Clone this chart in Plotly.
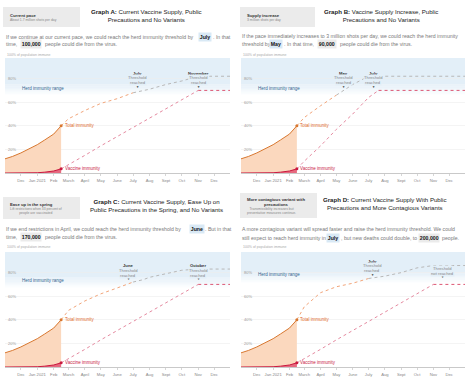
import plotly.graph_objects as go

W, H = 474, 381
FONT = "Liberation Sans, Arial, sans-serif"

# ---------------- data ----------------
month_ticks = ["2020-12-01", "2021-01-01", "2021-02-01", "2021-03-01", "2021-04-01", "2021-05-01",
               "2021-06-01", "2021-07-01", "2021-08-01", "2021-09-01", "2021-10-01", "2021-11-01",
               "2021-12-01"]
month_labels = ["Dec", "Jan 2021", "Feb", "March", "April", "May", "June", "July", "Aug", "Sept",
                "Oct", "Nov", "Dec"]
pct_ticks = [20, 40, 60, 80]
pct_labels = ["20%", "40%", "60%", "80%"]

hist_dates = ["2020-11-01", "2020-11-15", "2020-12-01", "2020-12-15", "2021-01-01", "2021-01-15",
              "2021-02-01", "2021-02-15"]
total_hist = [12, 14, 17, 20, 24, 28, 33, 40]
vaccine_hist = [0, 0, 0, 0, 0.2, 0.7, 1.7, 3.5]

proj_dates = ["2021-02-15", "2021-03-01", "2021-04-01", "2021-05-01", "2021-06-01", "2021-07-01",
              "2021-07-20", "2021-08-01", "2021-09-01", "2021-10-01", "2021-11-01", "2021-12-01",
              "2021-12-31"]
total_proj_a = [40, 46, 53, 59, 63, 68, 70, 71, 75, 78, 82, 82, 82]
vaccine_proj_a = [3.5, 7, 15, 23, 31, 38.5, 43.5, 46.5, 54.5, 62, 70, 70, 70]
total_proj_b = [40, 47, 57, 66, 75, 82, 82, 82, 82, 82, 82, 82, 82]
vaccine_proj_b = [3.5, 10, 23, 37, 50, 64, 70, 70, 70, 70, 70, 70, 70]
total_proj_c = [40, 48, 56, 62, 67, 72, 74, 76, 79, 82, 83, 83, 83]
vaccine_proj_c = [3.5, 7, 15, 23, 31, 38.5, 43.5, 46.5, 54.5, 62, 70, 70, 70]
total_proj_d = [40, 51, 63, 68, 71, 75, 76, 77, 80, 84, 86, 86, 86]
vaccine_proj_d = [3.5, 7, 15, 23, 31, 38.5, 43.5, 46.5, 54.5, 62, 70, 70, 70]

# date from which the total line turns grey, and the vaccine line plateaus
total_split = {"A": "2021-07-01", "B": "2021-05-01", "C": "2021-07-01", "D": "2021-07-01"}
vaccine_plateau = {"A": "2021-11-01", "B": "2021-07-20", "C": "2021-11-01", "D": "2021-11-01"}

# herd immunity band (percent of population)
band_low = {"A": 66, "B": 66, "C": 67, "D": 71}
band_high = 97.5

# threshold callouts: (date, pointer %, lines)
thresholds = {
    "A": [("2021-07-10", 72, ["<b>July</b>", "Threshold", "reached"]),
          ("2021-11-02", 72, ["<b>November</b>", "Threshold", "reached"])],
    "B": [("2021-05-15", 72, ["<b>May</b>", "Threshold", "reached"]),
          ("2021-07-10", 72, ["<b>July</b>", "Threshold", "reached"])],
    "C": [("2021-06-22", 73, ["<b>June</b>", "Threshold", "reached"]),
          ("2021-11-01", 73, ["<b>October</b>", "Threshold", "reached"])],
    "D": [("2021-07-08", 77, ["<b>July</b>", "Threshold", "reached"]),
          ("2021-11-18", 74.6, ["Threshold", "not reached"])],
}
herd_label_pct = {"A": 72, "B": 72, "C": 73, "D": 78}

# ---------------- styles ----------------
PEACH = "#fbd8be"
ORANGE = "#d8772f"
ORANGE_TXT = "#e0692a"
ORANGE_PROJ = "#f2a57a"
RED = "#c9193f"
RED_FILL = "#e6697f"
RED_PROJ = "#e58aa0"
RED_PLAT = "#dc5673"
GREY_PROJ = "#b8b8b8"
BAND = "#e3eff8"

panels = [
    dict(key="A", n=1, x0=5, x1=230, y0=55, y1=173, total=total_proj_a, vacc=vaccine_proj_a),
    dict(key="B", n=2, x0=241, x1=465, y0=55, y1=173, total=total_proj_b, vacc=vaccine_proj_b),
    dict(key="C", n=3, x0=5, x1=230, y0=249, y1=367, total=total_proj_c, vacc=vaccine_proj_c),
    dict(key="D", n=4, x0=241, x1=465, y0=249, y1=367, total=total_proj_d, vacc=vaccine_proj_d),
]

fig = go.Figure()
layout_axes = {}
shapes = []
annotations = []


def ann(**kw):
    annotations.append(kw)


for p in panels:
    n = p["n"]
    key = p["key"]
    xa = "x" if n == 1 else f"x{n}"
    ya = "y" if n == 1 else f"y{n}"
    xl = "xaxis" if n == 1 else f"xaxis{n}"
    yl = "yaxis" if n == 1 else f"yaxis{n}"

    layout_axes[xl] = dict(
        domain=[p["x0"] / W, p["x1"] / W], anchor=ya, type="date",
        range=["2020-11-01", "2021-12-31"], tickvals=month_ticks, ticktext=month_labels,
        tickfont=dict(family=FONT, size=4.2, color="#888"), ticks="outside", ticklen=2,
        tickcolor="#bbb", tickwidth=0.6, showline=True, linecolor="#bbb", linewidth=0.8,
        showgrid=False, zeroline=False, fixedrange=True, ticklabelstandoff=1)
    layout_axes[yl] = dict(
        domain=[1 - p["y1"] / H, 1 - p["y0"] / H], anchor=xa, range=[0, 100],
        tickvals=pct_ticks, ticktext=pct_labels, ticklabelposition="inside",
        tickfont=dict(family=FONT, size=4, color="#999"), showgrid=True, gridcolor="#ececec",
        gridwidth=0.6, zeroline=False, showline=False, ticks="", fixedrange=True)

    # herd immunity band with a soft bottom edge
    lo = band_low[key]
    solid = lo + 9
    shapes.append(dict(type="rect", xref=f"{xa} domain", yref=ya, x0=0, x1=1, y0=solid,
                       y1=band_high, fillcolor=BAND, line_width=0, layer="below"))
    steps = 9
    for s in range(steps):
        y_top = solid - s * (solid - lo) / steps
        y_bot = solid - (s + 1) * (solid - lo) / steps
        shapes.append(dict(type="rect", xref=f"{xa} domain", yref=ya, x0=0, x1=1, y0=y_bot,
                           y1=y_top, fillcolor=BAND, opacity=1 - (s + 0.5) / steps,
                           line_width=0, layer="below"))

    # history
    fig.add_trace(go.Scatter(x=hist_dates, y=total_hist, mode="lines", fill="tozeroy",
                             fillcolor=PEACH, line=dict(color=ORANGE, width=1),
                             xaxis=xa, yaxis=ya, hoverinfo="skip"))
    fig.add_trace(go.Scatter(x=hist_dates, y=vaccine_hist, mode="lines", fill="tozeroy",
                             fillcolor=RED_FILL, line=dict(color=RED, width=1),
                             xaxis=xa, yaxis=ya, hoverinfo="skip"))

    # projections
    tot = p["total"]
    vac = p["vacc"]
    i_s = proj_dates.index(total_split[key])
    fig.add_trace(go.Scatter(x=proj_dates[:i_s + 1], y=tot[:i_s + 1], mode="lines",
                             line=dict(color=ORANGE_PROJ, width=1, dash="dot"),
                             xaxis=xa, yaxis=ya, hoverinfo="skip"))
    fig.add_trace(go.Scatter(x=proj_dates[i_s:], y=tot[i_s:], mode="lines",
                             line=dict(color=GREY_PROJ, width=1, dash="dot"),
                             xaxis=xa, yaxis=ya, hoverinfo="skip"))
    i_v = proj_dates.index(vaccine_plateau[key])
    fig.add_trace(go.Scatter(x=proj_dates[:i_v + 1], y=vac[:i_v + 1], mode="lines",
                             line=dict(color=RED_PROJ, width=1, dash="dot"),
                             xaxis=xa, yaxis=ya, hoverinfo="skip"))
    fig.add_trace(go.Scatter(x=proj_dates[i_v:], y=vac[i_v:], mode="lines",
                             line=dict(color=RED_PLAT, width=1, dash="dot"),
                             xaxis=xa, yaxis=ya, hoverinfo="skip"))

    # end-of-history dots
    fig.add_trace(go.Scatter(x=[hist_dates[-1], hist_dates[-1]], y=[total_hist[-1], vaccine_hist[-1]],
                             mode="markers", marker=dict(size=3, color=[ORANGE, RED]),
                             xaxis=xa, yaxis=ya, hoverinfo="skip"))

    ann(xref=xa, yref=ya, x=hist_dates[-1], y=total_hist[-1], text="Total immunity",
        showarrow=False, xanchor="left", yanchor="middle", xshift=1.5,
        font=dict(family=FONT, size=4.5, color=ORANGE_TXT))
    ann(xref=xa, yref=ya, x=hist_dates[-1], y=vaccine_hist[-1] + 0.5, text="Vaccine immunity",
        showarrow=False, xanchor="left", yanchor="middle", xshift=1.5,
        font=dict(family=FONT, size=4.5, color=RED))
    ann(xref=f"{xa} domain", yref=ya, x=0.065, y=herd_label_pct[key], text="Herd immunity range",
        showarrow=False, xanchor="left", yanchor="middle",
        font=dict(family=FONT, size=4.5, color="#33648f"))

    for (d, tip, lines) in thresholds[key]:
        ann(xref=xa, yref=ya, x=d, y=tip + 1.3, text="▼", showarrow=False, xanchor="center",
            yanchor="middle", font=dict(family=FONT, size=3.2, color="#333"))
        nl = len(lines)
        for k, line in enumerate(lines):
            yy = tip + 4.6 + 4.0 * (nl - 1 - k)
            col = "#333" if line.startswith("<b>") else "#888"
            ann(xref=xa, yref=ya, x=d, y=yy, text=line, showarrow=False, xanchor="center",
                yanchor="middle", bgcolor=BAND, borderpad=0,
                font=dict(family=FONT, size=4.2, color=col))


# ---------------- headers ----------------
def ptext(x, y, s, size, color, xanchor="left", bg=None, pad=0):
    d = dict(xref="paper", yref="paper", x=x / W, y=1 - y / H, text=s, showarrow=False,
             xanchor=xanchor, yanchor="middle", font=dict(family=FONT, size=size, color=color),
             borderpad=pad)
    if bg:
        d["bgcolor"] = bg
    ann(**d)


def box(x0, y0, x1, y1):
    shapes.append(dict(type="rect", xref="paper", yref="paper", x0=x0 / W, x1=x1 / W,
                       y0=1 - y1 / H, y1=1 - y0 / H, fillcolor="#ebebeb", line_width=0,
                       layer="below"))


MONTH_BG = "#d9e9f5"
NUM_BG = "#ebebeb"
PARA = "#7a7a7a"
PSZ = 5.2

# Graph A
box(3, 7, 80, 27)
ptext(9, 15, "<b>Current pace</b>", 4.2, "#333")
ptext(9, 20.5, "About 1.7 million shots per day", 3.4, "#888")
ptext(90, 15.5, "<b>Graph A:</b> Current Vaccine Supply, Public<br>Precautions and No Variants", 6.1, "#222")
ptext(5, 37, "If we continue at our current pace, we could reach the herd immunity threshold by", PSZ, PARA)
ptext(205, 37, "<b>July</b>", PSZ, "#111", "center", MONTH_BG, 0.8)
ptext(212, 37, ". In that", PSZ, PARA)
ptext(5, 44.5, "time,", PSZ, PARA)
ptext(31.5, 44.5, "<b>100,000</b>", PSZ, "#111", "center", NUM_BG, 0.8)
ptext(44, 44.5, "people could die from the virus.", PSZ, PARA)
ptext(6, 55, "100% of population immune", 3.5, "#aaa")

# Graph B
box(240, 7, 315, 27)
ptext(246, 15, "<b>Supply increase</b>", 4.2, "#333")
ptext(246, 20.5, "3 million shots per day", 3.4, "#888")
ptext(323, 15.5, "<b>Graph B:</b> Vaccine Supply Increase, Public<br>Precautions and No Variants", 6.1, "#222")
ptext(241, 35.5, "If the pace immediately increases to 3 million shots per day, we could reach the herd immunity", PSZ, PARA)
ptext(241, 43.5, "threshold by", PSZ, PARA)
ptext(276, 43.5, "<b>May</b>", PSZ, "#111", "center", MONTH_BG, 0.8)
ptext(282.5, 43.5, ". In that time,", PSZ, PARA)
ptext(327, 43.5, "<b>90,000</b>", PSZ, "#111", "center", NUM_BG, 0.8)
ptext(338.5, 43.5, "people could die from the virus.", PSZ, PARA)
ptext(242, 55, "100% of population immune", 3.5, "#aaa")

# Graph C
box(3, 197, 80, 219)
ptext(9, 204.5, "<b>Ease up in the spring</b>", 4.2, "#333")
ptext(9, 211, "Lift restrictions when 33 percent of<br>people are vaccinated", 3.4, "#888")
ptext(89, 205.5, "<b>Graph C:</b> Current Vaccine Supply, Ease Up on<br>Public Precautions in the Spring, and No Variants", 6.1, "#222")
ptext(5, 228.5, "If we end restrictions in April, we could reach the herd immunity threshold by", PSZ, PARA)
ptext(197, 228.5, "<b>June</b>", PSZ, "#111", "center", MONTH_BG, 0.8)
ptext(203.5, 228.5, ". But in that", PSZ, PARA)
ptext(5, 237, "time,", PSZ, PARA)
ptext(31, 237, "<b>170,000</b>", PSZ, "#111", "center", NUM_BG, 0.8)
ptext(44, 237, "people could die from the virus.", PSZ, PARA)
ptext(6, 247, "100% of population immune", 3.5, "#aaa")

# Graph D
box(240, 193, 317, 218)
ptext(246, 202, "<b>More contagious variant with<br>precautions</b>", 4.2, "#333")
ptext(246, 211, "Transmissibility increases but<br>preventative measures continue.", 3.4, "#888")
ptext(322, 203, "<b>Graph D:</b> Current Vaccine Supply With Public<br>Precautions and More Contagious Variants", 6.1, "#222")
ptext(241, 229, "A more contagious variant will spread faster and raise the herd immunity threshold. We could", PSZ, PARA)
ptext(241, 237.5, "still expect to reach herd immunity in", PSZ, PARA)
ptext(333, 237.5, "<b>July</b>", PSZ, "#111", "center", MONTH_BG, 0.8)
ptext(339.5, 237.5, ", but new deaths could double, to", PSZ, PARA)
ptext(429, 237.5, "<b>200,000</b>", PSZ, "#111", "center", NUM_BG, 0.8)
ptext(440.5, 237.5, "people.", PSZ, PARA)
ptext(242, 247, "100% of population immune", 3.5, "#aaa")

fig.update_layout(
    width=W, height=H, margin=dict(l=0, r=0, t=0, b=0),
    paper_bgcolor="white", plot_bgcolor="rgba(0,0,0,0)", showlegend=False,
    shapes=shapes, annotations=annotations, font=dict(family=FONT),
    **layout_axes)

fig.write_html("out.html", config={"displayModeBar": False, "staticPlot": True},
               post_script="document.body.style.margin='0';document.body.style.padding='0';")
